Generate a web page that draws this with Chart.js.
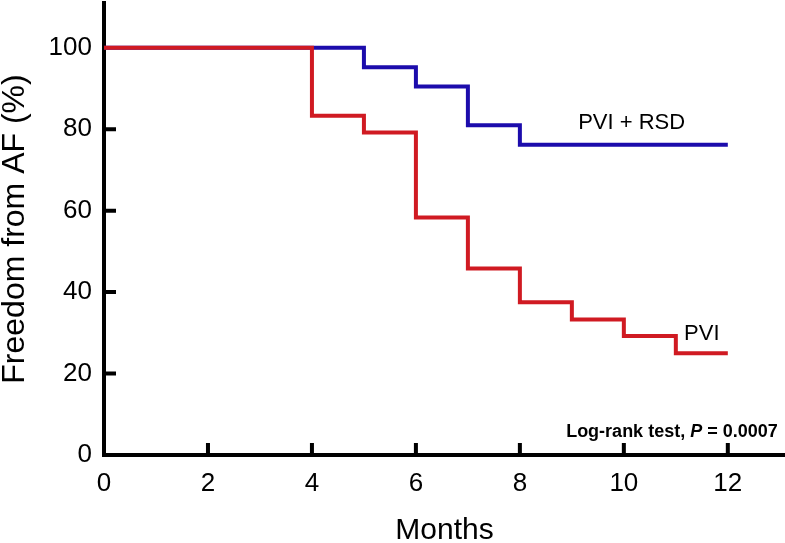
<!doctype html>
<html>
<head>
	<title>Freedom from AF</title>
	<script src="https://cdn.jsdelivr.net/npm/chart.js@4.4.1/dist/chart.umd.min.js"></script>
	<style>
		body { margin: 0; background: #fff; }
		#wrap { width: 785px; height: 543px; }
	</style>
</head>
<body>
	<div id="wrap"><canvas id="canvas"></canvas></div>
	<script>
		// Kaplan-Meier steps (month, % free from AF)
		var pviMonths = [0, 4, 5, 6, 7, 8, 9, 10, 11, 12];
		var pviValues = [100, 83.3, 79.2, 58.3, 45.8, 37.5, 33.3, 29.2, 25, 25];
		var rsdMonths = [0, 5, 6, 7, 8, 12];
		var rsdValues = [100, 95.2, 90.5, 81.0, 76.2, 76.2];
		var xTicks = [0, 2, 4, 6, 8, 10, 12];
		var yTicks = [0, 20, 40, 60, 80, 100];

		var FONT = '"Liberation Sans", Arial, sans-serif';

		function toPoints(xs, ys) {
			var pts = [];
			for (var i = 0; i < xs.length; i++) pts.push({x: xs[i], y: ys[i]});
			return pts;
		}

		// tick marks pointing into the plot area
		var innerTicks = {
			id: 'innerTicks',
			afterDatasetsDraw: function(chart) {
				var ctx = chart.ctx, x = chart.scales.x, y = chart.scales.y;
				ctx.save();
				ctx.strokeStyle = '#000';
				ctx.lineWidth = 4;
				ctx.beginPath();
				yTicks.forEach(function(v) {
					if (v == 0 || v == 100) return;
					var py = y.getPixelForValue(v);
					ctx.moveTo(x.left, py);
					ctx.lineTo(x.left + 12, py);
				});
				xTicks.forEach(function(v) {
					if (v == 0) return;
					var px = x.getPixelForValue(v);
					ctx.moveTo(px, y.bottom);
					ctx.lineTo(px, y.bottom - 12);
				});
				ctx.stroke();
				ctx.restore();
			}
		};

		var labels = {
			id: 'labels',
			afterDatasetsDraw: function(chart) {
				var ctx = chart.ctx, x = chart.scales.x, y = chart.scales.y;
				ctx.save();
				ctx.fillStyle = '#000';
				ctx.textBaseline = 'middle';
				ctx.textAlign = 'center';
				ctx.font = '22px ' + FONT;
				ctx.fillText('PVI + RSD', x.getPixelForValue(10.15), y.getPixelForValue(81.5));
				ctx.fillText('PVI', x.getPixelForValue(11.5), y.getPixelForValue(29.8));
				// log-rank note, right aligned near the x axis
				var parts = [['bold 18px ', 'Log-rank test, '], ['bold italic 18px ', 'P'], ['bold 18px ', ' = 0.0007']];
				var w = 0;
				parts.forEach(function(p) { ctx.font = p[0] + FONT; w += ctx.measureText(p[1]).width; });
				var px = x.getPixelForValue(12.96) - w, py = y.getPixelForValue(5.6);
				ctx.textAlign = 'left';
				parts.forEach(function(p) {
					ctx.font = p[0] + FONT;
					ctx.fillText(p[1], px, py);
					px += ctx.measureText(p[1]).width;
				});
				ctx.restore();
			}
		};

		var config = {
			type: 'line',
			data: {
				datasets: [{
					label: 'PVI',
					data: toPoints(pviMonths, pviValues),
					borderColor: '#d01a22',
					borderWidth: 4,
					stepped: 'before',
					pointRadius: 0,
					fill: false,
					order: 1
				}, {
					label: 'PVI + RSD',
					data: toPoints(rsdMonths, rsdValues),
					borderColor: '#1c0cac',
					borderWidth: 4,
					stepped: 'before',
					pointRadius: 0,
					fill: false,
					order: 2
				}]
			},
			options: {
				responsive: true,
				maintainAspectRatio: false,
				animation: false,
				layout: { padding: { top: 3, right: 0, left: 0, bottom: 0 } },
				plugins: { legend: { display: false }, tooltip: { enabled: false } },
				scales: {
					x: {
						type: 'linear',
						min: 0,
						max: 13.1,
						afterBuildTicks: function(s) { s.ticks = xTicks.map(function(v) { return {value: v}; }); },
						afterFit: function(s) { s.height = 88; s.paddingLeft = 0; s.paddingRight = 0; },
						grid: { display: false, drawTicks: false },
						border: { color: '#000', width: 4 },
						ticks: { color: '#000', padding: 13, maxRotation: 0, font: { family: FONT, size: 26 } },
						title: { display: true, text: 'Months', color: '#000', padding: { top: 0, bottom: -6 }, font: { family: FONT, size: 30 } }
					},
					y: {
						min: 0,
						max: 111,
						afterBuildTicks: function(s) { s.ticks = yTicks.map(function(v) { return {value: v}; }); },
						afterFit: function(s) { s.width = 104; s.paddingTop = 0; s.paddingBottom = 0; },
						grid: { display: false, drawTicks: false },
						border: { color: '#000', width: 4 },
						ticks: { color: '#000', padding: 12, font: { family: FONT, size: 26 } },
						title: { display: true, text: 'Freedom from AF (%)', color: '#000', padding: { top: -4, bottom: 8 }, font: { family: FONT, size: 32 } }
					}
				}
			},
			plugins: [innerTicks, labels]
		};

		window.onload = function() {
			var ctx = document.getElementById('canvas').getContext('2d');
			window.kmChart = new Chart(ctx, config);
		};
	</script>
</body>
</html>
